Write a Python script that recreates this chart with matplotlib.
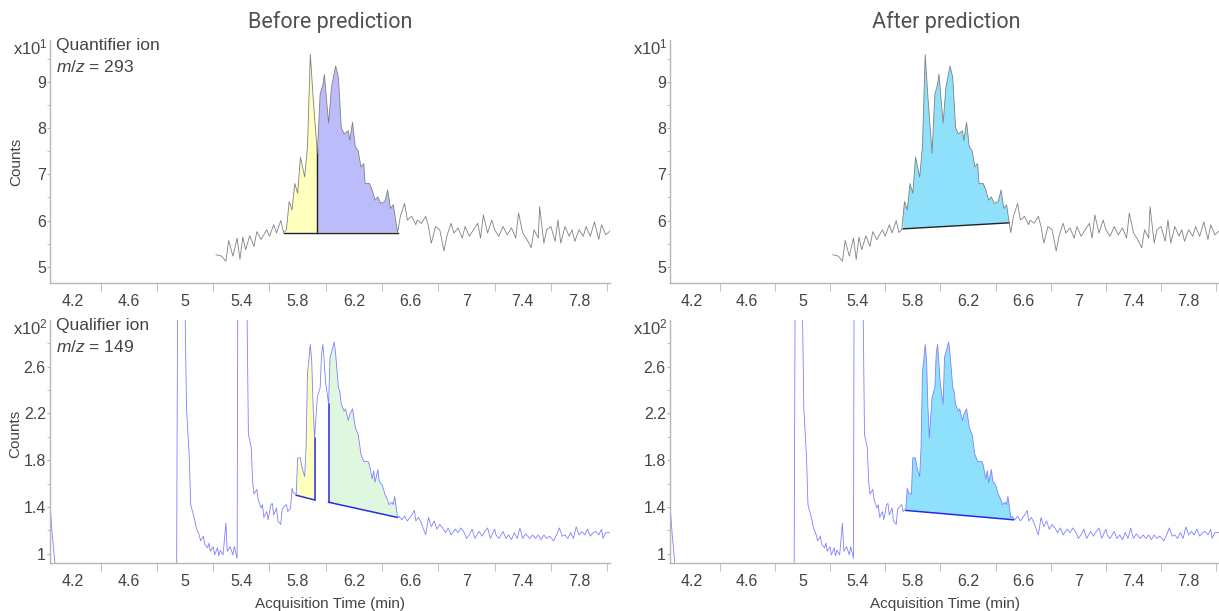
import numpy as np
import matplotlib
matplotlib.use('Agg')
from matplotlib import pyplot as plt

plt.rcParams['font.family'] = ['Liberation Sans', 'DejaVu Sans']
plt.rcParams['mathtext.fontset'] = 'custom'
plt.rcParams['mathtext.rm'] = 'Liberation Sans'
plt.rcParams['mathtext.it'] = 'Liberation Sans:italic'

# quantifier ion m/z 293 (counts x10^1)
quant_t = [5.22, 5.26, 5.29, 5.31, 5.34, 5.37, 5.39, 5.41, 5.43, 5.46, 5.49, 5.51, 5.54, 5.58,
           5.60, 5.63, 5.65, 5.68, 5.70, 5.72, 5.74, 5.76, 5.78, 5.80, 5.82, 5.85, 5.87, 5.89,
           5.91, 5.94, 5.96, 5.98, 5.99, 6.02, 6.04, 6.07, 6.09, 6.11, 6.13, 6.16, 6.17, 6.19,
           6.21, 6.23, 6.25, 6.27, 6.28, 6.31, 6.33, 6.35, 6.37, 6.39, 6.42, 6.44, 6.46, 6.48,
           6.51, 6.53, 6.56, 6.58, 6.61, 6.64, 6.65, 6.68, 6.71, 6.73, 6.75, 6.78, 6.81, 6.84,
           6.86, 6.89, 6.91, 6.94, 6.97, 6.99, 7.02, 7.05, 7.08, 7.10, 7.12, 7.15, 7.18, 7.20,
           7.23, 7.26, 7.29, 7.32, 7.35, 7.37, 7.40, 7.43, 7.46, 7.48, 7.51, 7.52, 7.55, 7.57,
           7.60, 7.63, 7.65, 7.67, 7.70, 7.73, 7.75, 7.77, 7.80, 7.83, 7.85, 7.88, 7.91, 7.94,
           7.96, 7.99, 8.03]
quant_y = [5.26, 5.23, 5.12, 5.57, 5.23, 5.62, 5.16, 5.64, 5.37, 5.67, 5.44, 5.76, 5.59, 5.80,
           5.66, 5.91, 5.73, 6.00, 5.74, 5.80, 6.41, 6.23, 6.80, 6.59, 7.37, 6.94, 7.59, 9.59,
           8.66, 7.45, 8.73, 8.94, 9.16, 8.10, 8.87, 9.34, 9.09, 8.01, 7.87, 7.94, 7.73, 8.12,
           7.59, 7.51, 7.16, 7.23, 6.80, 6.80, 6.66, 6.44, 6.51, 6.37, 6.41, 6.66, 6.26, 6.34,
           5.74, 6.09, 6.37, 6.01, 6.09, 5.91, 6.01, 5.94, 6.09, 5.87, 5.51, 5.87, 5.80, 5.34,
           5.66, 5.94, 5.73, 5.84, 5.62, 5.87, 5.66, 5.80, 5.94, 5.62, 6.12, 5.73, 6.01, 5.80,
           5.66, 5.87, 5.69, 5.84, 5.62, 6.16, 5.73, 5.59, 5.41, 5.80, 5.62, 6.30, 5.51, 5.80,
           5.87, 5.55, 6.01, 5.51, 5.87, 5.66, 5.80, 5.55, 5.80, 5.66, 5.87, 5.66, 5.97, 5.59,
           5.91, 5.69, 5.80]

# qualifier ion m/z 149 (counts x10^2)
qual_t = [4.036, 4.056, 4.08, 4.94, 4.955, 4.995, 5.00, 5.01, 5.03, 5.04, 5.06, 5.07, 5.08,
          5.10, 5.11, 5.13, 5.14, 5.16, 5.17, 5.18, 5.20, 5.21, 5.23, 5.24, 5.25, 5.27, 5.29,
          5.30, 5.32, 5.34, 5.35, 5.37, 5.38, 5.43, 5.44, 5.45, 5.47, 5.48, 5.49, 5.51, 5.52,
          5.54, 5.55, 5.56, 5.58, 5.59, 5.61, 5.62, 5.63, 5.65, 5.66, 5.68, 5.69, 5.71, 5.72,
          5.73, 5.75, 5.76, 5.77, 5.79, 5.80, 5.82, 5.83, 5.85, 5.86, 5.87, 5.89, 5.90, 5.91,
          5.92, 5.93, 5.94, 5.96, 5.97, 5.98, 6.00, 6.01, 6.02, 6.03, 6.06, 6.07, 6.09, 6.10,
          6.11, 6.13, 6.14, 6.16, 6.17, 6.19, 6.21, 6.23, 6.24, 6.25, 6.27, 6.30, 6.31, 6.33,
          6.34, 6.35, 6.37, 6.38, 6.40, 6.41, 6.42, 6.44, 6.45, 6.47, 6.48, 6.49, 6.51, 6.52,
          6.54, 6.56, 6.58, 6.61, 6.63, 6.64, 6.66, 6.68, 6.71, 6.73, 6.75, 6.77, 6.79, 6.81,
          6.83, 6.85, 6.87, 6.89, 6.92, 6.94, 6.96, 6.98, 7.00, 7.02, 7.04, 7.06, 7.09, 7.11,
          7.13, 7.15, 7.17, 7.20, 7.21, 7.23, 7.26, 7.28, 7.30, 7.32, 7.34, 7.36, 7.38, 7.40,
          7.42, 7.45, 7.47, 7.49, 7.51, 7.53, 7.55, 7.57, 7.59, 7.62, 7.64, 7.66, 7.68, 7.70,
          7.72, 7.74, 7.76, 7.78, 7.80, 7.82, 7.84, 7.86, 7.88, 7.90, 7.92, 7.94, 7.96, 7.97,
          7.99, 8.03]
qual_y = [1.49, 1.16, 0.85, 0.85, 6.00, 6.00, 3.10, 2.25, 1.82, 1.42, 1.33, 1.28, 1.22,
          1.16, 1.11, 1.15, 1.08, 1.05, 1.09, 1.02, 1.06, 0.99, 1.05, 0.98, 1.03, 0.99, 1.26,
          1.02, 1.06, 0.99, 1.06, 0.96, 6.00, 6.00, 3.10, 2.02, 1.91, 1.62, 1.51, 1.55, 1.46,
          1.39, 1.42, 1.31, 1.36, 1.29, 1.42, 1.43, 1.33, 1.39, 1.28, 1.25, 1.38, 1.41, 1.42,
          1.36, 1.39, 1.56, 1.52, 1.51, 1.82, 1.82, 1.74, 1.66, 1.91, 2.54, 2.79, 2.65, 2.25,
          1.99, 2.16, 2.34, 2.42, 2.71, 2.79, 2.45, 2.37, 2.28, 2.68, 2.81, 2.71, 2.42, 2.39,
          2.28, 2.22, 2.24, 2.14, 2.19, 2.24, 2.08, 2.02, 1.94, 1.85, 1.79, 1.79, 1.76, 1.64,
          1.71, 1.61, 1.72, 1.62, 1.59, 1.55, 1.51, 1.46, 1.42, 1.44, 1.42, 1.49, 1.31, 1.32,
          1.29, 1.32, 1.28, 1.33, 1.37, 1.28, 1.31, 1.26, 1.16, 1.31, 1.23, 1.28, 1.21, 1.25,
          1.22, 1.18, 1.22, 1.16, 1.21, 1.18, 1.22, 1.19, 1.13, 1.16, 1.21, 1.13, 1.19, 1.15,
          1.19, 1.22, 1.13, 1.21, 1.16, 1.13, 1.19, 1.13, 1.16, 1.12, 1.18, 1.13, 1.22, 1.13,
          1.17, 1.13, 1.16, 1.13, 1.16, 1.12, 1.16, 1.13, 1.15, 1.11, 1.16, 1.22, 1.15, 1.16,
          1.13, 1.18, 1.13, 1.23, 1.16, 1.19, 1.16, 1.21, 1.15, 1.18, 1.19, 1.16, 1.21, 1.13,
          1.18, 1.18]

# integration windows: (start, end, baseline at start, baseline at end)
quant_before = [(5.70, 5.937, 5.74, 5.74), (5.937, 6.51, 5.74, 5.74)]
qual_before = [(5.79, 5.92, 1.50, 1.46), (6.02, 6.51, 1.44, 1.31)]
quant_after = (5.73, 6.50, 5.82, 5.95)
qual_after = (5.75, 6.53, 1.37, 1.29)

xlabels = ['4.2', '4.6', '5', '5.4', '5.8', '6.2', '6.6', '7', '7.4', '7.8']
xlabel_pos = [4.2, 4.6, 5.0, 5.4, 5.8, 6.2, 6.6, 7.0, 7.4, 7.8]
xtick_marks = [4.4, 4.8, 5.2, 5.6, 6.0, 6.4, 6.8, 7.2, 7.6, 8.0]

grey = '#808080'
violet = '#8080ff'
txt = '#444444'


def peak_polygon(t, y, win):
    t0, t1, b0, b1 = win
    t = np.asarray(t)
    y = np.asarray(y)
    m = (t > t0) & (t < t1)
    xs = np.concatenate([[t0], t[m], [t1]])
    ys = np.concatenate([[np.interp(t0, t, y)], y[m], [np.interp(t1, t, y)]])
    return np.concatenate([xs, [t1, t0]]), np.concatenate([ys, [b1, b0]])


def style(ax, ylim, yt, ylab, ymin, power):
    ax.set_xlim(4.04, 8.02)
    ax.set_ylim(*ylim)
    for s in ['top', 'right']:
        ax.spines[s].set_visible(False)
    for s in ['left', 'bottom']:
        ax.spines[s].set_color('#b5b5b5')
        ax.spines[s].set_linewidth(1.0)
    ax.set_xticks(xlabel_pos, xlabels)
    ax.set_xticks(xtick_marks, minor=True)
    ax.set_yticks(yt, ylab)
    ax.set_yticks(ymin, minor=True)
    ax.tick_params(axis='x', which='major', length=0, pad=8, labelsize=11.5, labelcolor=txt)
    ax.tick_params(axis='x', which='minor', length=6, color='#b5b5b5')
    ax.tick_params(axis='y', which='major', length=2, pad=1, labelsize=11.5,
                   labelcolor=txt, color='#b5b5b5')
    ax.tick_params(axis='y', which='minor', length=2, color='#b5b5b5')
    ax.text(-0.004, 1.01, 'x10$^{%d}$' % power, transform=ax.transAxes,
            ha='right', va='top', fontsize=12, color=txt)


fig = plt.figure(figsize=(12.19, 6.11), dpi=100)
w_l = 560 / 1219
w_r = 549 / 1219
h = 243 / 611
ax1 = fig.add_axes([50 / 1219, 1 - 283 / 611, w_l, h])
ax2 = fig.add_axes([670 / 1219, 1 - 283 / 611, w_r, h])
ax3 = fig.add_axes([50 / 1219, 1 - 563 / 611, w_l, h])
ax4 = fig.add_axes([670 / 1219, 1 - 563 / 611, w_r, h])

top_lim = (4.65, 9.9)
bot_lim = (0.92, 3.0)
top_t = [5, 6, 7, 8, 9]
top_m = [5.5, 6.5, 7.5, 8.5, 9.5]
bot_t = [1.0, 1.4, 1.8, 2.2, 2.6]
bot_m = [1.2, 1.6, 2.0, 2.4, 2.8]

# before prediction, quantifier
for win, col in zip(quant_before, ['#ffffbe', '#bcbcfa']):
    px, py = peak_polygon(quant_t, quant_y, win)
    ax1.fill(px, py, color=col, lw=0)
ax1.plot([quant_before[0][0], quant_before[1][1]], [quant_before[0][2], quant_before[1][3]],
         color='#222222', lw=1.0)
split = quant_before[1][0]
ax1.plot([split, split], [quant_before[1][2], np.interp(split, quant_t, quant_y)],
         color='#222222', lw=1.0)
ax1.plot(quant_t, quant_y, color=grey, lw=0.6)

# after prediction, quantifier
px, py = peak_polygon(quant_t, quant_y, quant_after)
ax2.fill(px, py, color='#8ee0fb', lw=0)
ax2.plot([quant_after[0], quant_after[1]], [quant_after[2], quant_after[3]], color='#222222', lw=1.0)
ax2.plot(quant_t, quant_y, color=grey, lw=0.6)

# before prediction, qualifier
for win, col in zip(qual_before, ['#ffffbe', '#dff6df']):
    px, py = peak_polygon(qual_t, qual_y, win)
    ax3.fill(px, py, color=col, lw=0)
    ax3.plot([win[0], win[1]], [win[2], win[3]], color='#2a2ae6', lw=1.1)
ax3.plot([qual_before[0][1]] * 2, [qual_before[0][3], np.interp(qual_before[0][1], qual_t, qual_y)],
         color='#2a2ae6', lw=1.1)
ax3.plot([qual_before[1][0]] * 2, [qual_before[1][2], np.interp(qual_before[1][0], qual_t, qual_y)],
         color='#2a2ae6', lw=1.1)
ax3.plot(qual_t, qual_y, color=violet, lw=0.6)

# after prediction, qualifier
px, py = peak_polygon(qual_t, qual_y, qual_after)
ax4.fill(px, py, color='#8ee0fb', lw=0)
ax4.plot([qual_after[0], qual_after[1]], [qual_after[2], qual_after[3]], color='#2a2ae6', lw=1.1)
ax4.plot(qual_t, qual_y, color=violet, lw=0.6)

style(ax1, top_lim, top_t, [str(v) for v in top_t], top_m, 1)
style(ax2, top_lim, top_t, [str(v) for v in top_t], top_m, 1)
style(ax3, bot_lim, bot_t, ['1', '1.4', '1.8', '2.2', '2.6'], bot_m, 2)
style(ax4, bot_lim, bot_t, ['1', '1.4', '1.8', '2.2', '2.6'], bot_m, 2)

ax1.text(0.01, 1.01, 'Quantifier ion', transform=ax1.transAxes, ha='left', va='top',
         fontsize=12.5, color=txt)
ax1.text(0.01, 0.92, '$\\mathit{m/z}$ = 293', transform=ax1.transAxes, ha='left', va='top',
         fontsize=12.5, color=txt)
ax3.text(0.01, 1.01, 'Qualifier ion', transform=ax3.transAxes, ha='left', va='top',
         fontsize=12.5, color=txt)
ax3.text(0.01, 0.92, '$\\mathit{m/z}$ = 149', transform=ax3.transAxes, ha='left', va='top',
         fontsize=12.5, color=txt)

ax1.set_ylabel('Counts', fontsize=11, color=txt)
ax1.yaxis.set_label_coords(-0.047, 0.5)
ax3.set_ylabel('Counts', fontsize=11, color=txt)
ax3.yaxis.set_label_coords(-0.05, 0.53)
for ax in [ax3, ax4]:
    ax.set_xlabel('Acquisition Time (min)', fontsize=11, color=txt, labelpad=6)

fig.text(330 / 1219, 1 - 22 / 611, 'Before prediction', ha='center', va='center',
         fontsize=15.5, color='#505050', family=['Roboto', 'DejaVu Sans'])
fig.text(946 / 1219, 1 - 22 / 611, 'After prediction', ha='center', va='center',
         fontsize=15.5, color='#505050', family=['Roboto', 'DejaVu Sans'])

plt.savefig('out.png', dpi=100)
